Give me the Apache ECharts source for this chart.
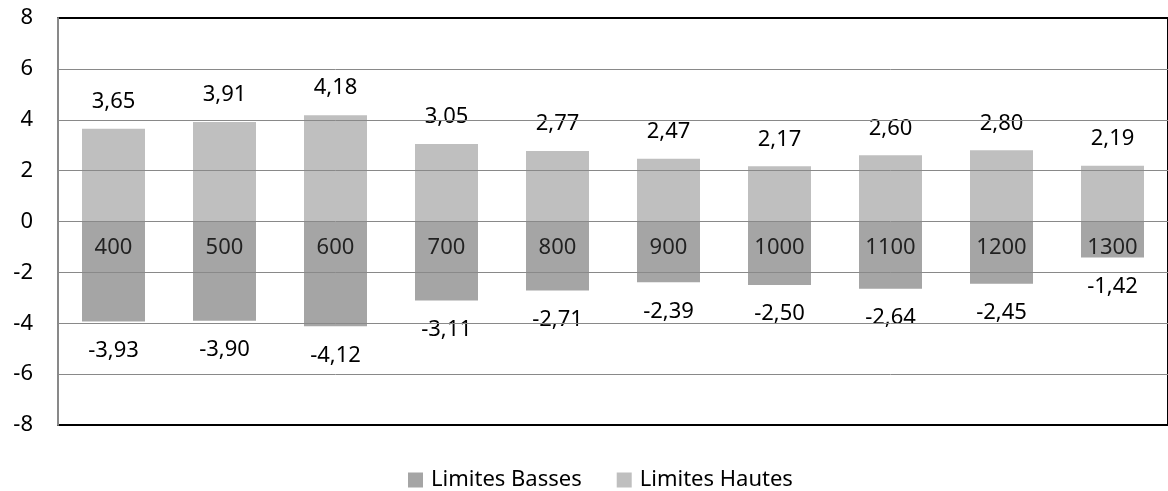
<!DOCTYPE html>
<html>
<head>
<meta charset="utf-8">
<script src="https://cdn.jsdelivr.net/npm/echarts@6/dist/echarts.min.js"></script>
<style>
html,body{margin:0;padding:0;background:#fff;}
#chart{width:1168px;height:491px;}
</style>
</head>
<body>
<div id="chart"></div>
<script>
const categories = ['400','500','600','700','800','900','1000','1100','1200','1300'];
const limitesBasses = [-3.93, -3.90, -4.12, -3.11, -2.71, -2.39, -2.50, -2.64, -2.45, -1.42];
const limitesHautes = [3.65, 3.91, 4.18, 3.05, 2.77, 2.47, 2.17, 2.60, 2.80, 2.19];
const categoryLabelAnchors = [0, 0, 0, 0, 0, 0, 0, 0, 0, 0];
const yTicks = [-8, -6, -4, -2, 0, 2, 4, 6, 8];

const FONT = 'Noto Sans';
const fmt = v => v.toFixed(2).replace('.', ',');
const gray = '#898989';
const yMin = yTicks[0], yMax = yTicks[yTicks.length - 1];

const chart = echarts.init(document.getElementById('chart'), null, {renderer: 'canvas'});
chart.setOption({
  animation: false,
  backgroundColor: '#ffffff',
  grid: {left: 58, right: -2, top: 18, bottom: 66, containLabel: false,
    show: true, borderColor: '#000', borderWidth: 2, backgroundColor: 'transparent'},
  legend: {
    left: 403, top: 464,
    itemWidth: 15, itemHeight: 15, itemGap: 35,
    icon: 'rect',
    textStyle: {fontFamily: FONT, fontSize: 22, color: '#000', padding: [0,0,0,3]},
    data: ['Limites Basses', 'Limites Hautes']
  },
  xAxis: [{
    type: 'category',
    data: categories,
    position: 'bottom',
    axisLine: {show: true, onZero: false, lineStyle: {color: '#000', width: 2}},
    axisTick: {show: false},
    axisLabel: {show: false},
    splitLine: {show: false},
    z: 5
  }],
  yAxis: {
    type: 'value',
    min: yMin, max: yMax, interval: 2,
    axisLine: {show: true, lineStyle: {color: gray, width: 2}},
    axisTick: {show: false},
    axisLabel: {fontFamily: FONT, fontSize: 22, color: '#000', margin: 25,
      formatter: v => String(v)},
    splitLine: {show: true, showMinLine: false, showMaxLine: false, lineStyle: {color: gray, width: 1}},
    z: 6
  },
  series: [
    {
      name: 'Limites Basses',
      type: 'bar',
      data: limitesBasses,
      barWidth: 63,
      barGap: '-100%',
      itemStyle: {color: '#A5A5A5'},
      label: {show: true, position: 'bottom', distance: 18,
        fontFamily: FONT, fontSize: 22, color: '#000',
        formatter: p => fmt(p.value)}
    },
    {
      name: 'Limites Hautes',
      type: 'bar',
      data: limitesHautes,
      barWidth: 63,
      barGap: '-100%',
      itemStyle: {color: '#BFBFBF'},
      label: {show: true, position: 'top', distance: 16,
        fontFamily: FONT, fontSize: 22, color: '#000',
        formatter: p => fmt(p.value)}
    },
    {
      name: 'categories',
      type: 'scatter',
      data: categoryLabelAnchors,
      symbolSize: 0,
      silent: true,
      z: 10,
      label: {show: true, position: 'bottom', distance: 15,
        fontFamily: FONT, fontSize: 22, color: '#000',
        formatter: p => categories[p.dataIndex]}
    }
  ]
});
</script>
</body>
</html>
